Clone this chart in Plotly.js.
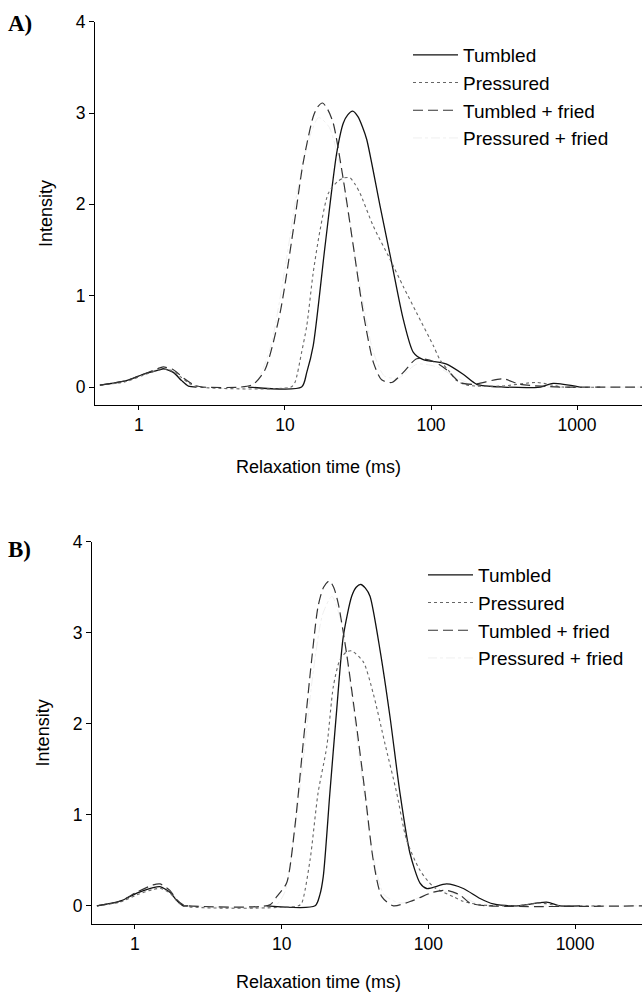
<!DOCTYPE html>
<html>
<head>
<meta charset="utf-8">
<script src="https://cdn.plot.ly/plotly-3.0.1.min.js"></script>
<style>html,body{margin:0;padding:0;background:#fff;}#chart{width:642px;height:992px;}</style>
</head>
<body>
<div id="chart"></div>
<script>
// ---------- DATA (relaxation time in ms, intensity) ----------
const seriesNames = ["Tumbled", "Pressured", "Tumbled + fried", "Pressured + fried"];
const xTickVals = [1, 10, 100, 1000];
const xTickText = ["1", "10", "100", "1000"];
const yTickVals = [0, 1, 2, 3, 4];
const panelLabels = ["A)", "B)"];
const xTitle = "Relaxation time (ms)";
const yTitle = "Intensity";

// Panel A
const aTumbledT = [0.54, 0.82, 1.07, 1.39, 1.47, 1.72, 1.96, 2.18, 2.48, 3.5, 5.6, 13.0, 14.1, 15.6, 18.8, 22.6, 25.1, 26.9, 29.1, 31.6, 33.9, 36.3, 44.8, 53.8, 64.6, 75.7, 88.5, 115, 128, 166, 206, 316, 562, 686, 1047];
const aTumbledI = [0.02, 0.07, 0.14, 0.19, 0.20, 0.16, 0.07, 0.01, 0.0, null, 0.0, 0.0, 0.16, 0.45, 1.54, 2.56, 2.89, 2.98, 3.02, 2.96, 2.85, 2.71, 1.98, 1.36, 0.74, 0.38, 0.30, 0.27, 0.25, 0.14, 0.03, 0.0, 0.0, 0.04, 0.0];

const aPressT = [0.54, 0.82, 1.07, 1.39, 1.6, 1.9, 2.2, 2.6, 11.0, 11.7, 13.0, 14.1, 15.6, 17.4, 19.8, 22.9, 25.4, 27.9, 30.2, 32.7, 40.3, 52.4, 64.6, 79.8, 104, 115, 135, 150, 178, 300, 532, 794, 1500];
const aPressI = [0.02, 0.06, 0.13, 0.19, 0.19, 0.12, 0.04, 0.0, 0.0, 0.05, 0.38, 0.67, 1.25, 1.72, 2.12, 2.25, 2.29, 2.29, 2.22, 2.12, 1.76, 1.40, 1.10, 0.81, 0.45, 0.30, 0.16, 0.07, 0.02, 0.01, 0.05, 0.0, 0.0];

const aTFriedT = [0.54, 0.82, 1.07, 1.39, 1.47, 1.72, 2.05, 2.4, 2.74, 5.0, 6.07, 7.3, 9.25, 11.4, 13.3, 15.6, 16.8, 18.1, 19.6, 21.4, 25.1, 29.4, 34.4, 40.3, 45.9, 53.8, 64.6, 79.8, 104, 128, 158, 194, 311, 407, 766, 2000, 3162];
const aTFriedI = [0.02, 0.07, 0.14, 0.21, 0.22, 0.19, 0.09, 0.02, 0.0, 0.0, 0.03, 0.19, 0.81, 1.72, 2.45, 2.96, 3.07, 3.11, 3.04, 2.89, 2.27, 1.54, 0.81, 0.27, 0.08, 0.05, 0.16, 0.31, 0.28, 0.19, 0.05, 0.03, 0.09, 0.03, 0.0, 0.0, 0.0];

const aPFriedT = [0.54, 0.82, 1.07, 1.39, 1.72, 2.05, 2.6, 5.5, 6.5, 8.0, 10.0, 12.0, 14.5, 17.0, 20.0, 24.0, 28.0, 34.0, 40.0, 48.0, 60.0, 80.0, 110, 150, 200, 400, 3162];
const aPFriedI = [0.02, 0.07, 0.13, 0.20, 0.18, 0.08, 0.0, 0.0, 0.08, 0.45, 1.30, 2.10, 2.70, 2.95, 2.85, 2.40, 1.75, 0.95, 0.40, 0.12, 0.10, 0.25, 0.22, 0.10, 0.02, 0.0, 0.0];

// Panel B
const bTumbledT = [0.55, 0.79, 1.03, 1.33, 1.48, 1.73, 1.92, 2.13, 2.3, 4.0, 7.9, 16.9, 18.2, 19.2, 21.3, 23.7, 26.3, 30.0, 32.2, 34.6, 37.2, 40.0, 46.8, 54.7, 64.0, 74.8, 87.7, 97.3, 133, 173, 225, 277, 398, 640, 789, 1079];
const bTumbledI = [0.0, 0.05, 0.14, 0.20, 0.21, 0.15, 0.06, 0.0, 0.0, null, 0.0, 0.0, 0.12, 0.32, 1.24, 2.15, 2.96, 3.40, 3.50, 3.53, 3.49, 3.40, 2.81, 2.08, 1.24, 0.58, 0.25, 0.19, 0.24, 0.19, 0.08, 0.02, 0.0, 0.04, 0.0, 0.0];

const bPressT = [0.55, 0.79, 1.03, 1.33, 1.5, 1.73, 1.92, 2.13, 13.0, 13.7, 15.6, 17.7, 20.3, 22.5, 24.9, 27.7, 30.0, 36.0, 42.1, 50.6, 60.8, 71.1, 87.7, 108, 148, 172, 224, 400, 577, 794, 1500];
const bPressI = [0.0, 0.04, 0.12, 0.18, 0.19, 0.14, 0.06, 0.0, 0.0, 0.03, 0.50, 1.24, 1.75, 2.41, 2.70, 2.79, 2.80, 2.68, 2.33, 1.78, 1.24, 0.72, 0.39, 0.21, 0.10, 0.05, 0.01, 0.0, 0.03, 0.0, 0.0];

const bTFriedT = [0.55, 0.79, 1.03, 1.33, 1.48, 1.73, 1.92, 2.13, 2.3, 8.3, 9.25, 10.8, 12.3, 14.0, 16.0, 17.7, 19.3, 21.1, 22.6, 24.3, 27.7, 32.4, 37.0, 42.1, 48.1, 57.7, 78.9, 108, 133, 164, 192, 251, 3162];
const bTFriedI = [0.0, 0.05, 0.15, 0.23, 0.24, 0.17, 0.07, 0.01, 0.0, 0.01, 0.10, 0.25, 0.87, 1.78, 2.70, 3.29, 3.50, 3.57, 3.50, 3.32, 2.77, 1.97, 1.24, 0.50, 0.10, 0.0, 0.06, 0.15, 0.17, 0.12, 0.03, 0.0, 0.0];

const bPFriedT = [0.55, 0.79, 1.03, 1.33, 1.73, 2.13, 2.5, 9.0, 10.5, 12.0, 14.0, 16.5, 19.0, 22.0, 26.0, 30.0, 36.0, 42.0, 50.0, 65.0, 90.0, 120, 160, 220, 400, 3162];
const bPFriedI = [0.0, 0.05, 0.14, 0.22, 0.16, 0.01, 0.0, 0.0, 0.15, 0.70, 1.60, 2.60, 3.20, 3.40, 3.05, 2.30, 1.30, 0.55, 0.12, 0.03, 0.10, 0.16, 0.12, 0.02, 0.0, 0.0];

// ---------- STYLE ----------
const FONT = "Liberation Sans, Arial, Helvetica, sans-serif";
const styles = [
  {color: "#111111", width: 1.3, dash: "solid"},
  {color: "#666666", width: 1.1, dash: "dot"},
  {color: "#333333", width: 1.2, dash: "10px,5px"},
  {color: "#efefef", width: 1.0, dash: "dashdot"}
];

function mk(x, y, i, xa, ya, leg) {
  return {
    x: x, y: y, type: "scatter", mode: "lines", name: seriesNames[i],
    xaxis: xa, yaxis: ya, legend: leg, connectgaps: false, legendrank: i + 1,
    line: {color: styles[i].color, width: styles[i].width, dash: styles[i].dash, shape: "spline", smoothing: 0.7},
    hoverinfo: "x+y"
  };
}

const traces = [
  mk(aPFriedT, aPFriedI, 3, "x", "y", "legend"),
  mk(aTumbledT, aTumbledI, 0, "x", "y", "legend"),
  mk(aPressT, aPressI, 1, "x", "y", "legend"),
  mk(aTFriedT, aTFriedI, 2, "x", "y", "legend"),
  mk(bPFriedT, bPFriedI, 3, "x2", "y2", "legend2"),
  mk(bTumbledT, bTumbledI, 0, "x2", "y2", "legend2"),
  mk(bPressT, bPressI, 1, "x2", "y2", "legend2"),
  mk(bTFriedT, bTFriedI, 2, "x2", "y2", "legend2")
];

const W = 642, H = 992;
const tickFont = {family: FONT, size: 17.5, color: "#000"};

function xAxis(domainLeft, range) {
  return {
    type: "log", domain: [domainLeft / W, 1], range: range,
    tickvals: xTickVals, ticktext: xTickText, tickmode: "array",
    showline: true, linecolor: "#000", linewidth: 1.2, mirror: false,
    ticks: "outside", ticklen: 4, tickcolor: "#000", tickwidth: 1,
    showgrid: false, zeroline: false, tickfont: tickFont, automargin: false,
    fixedrange: true
  };
}
function yAxis(top, bottom, anchor) {
  return {
    domain: [1 - bottom / H, 1 - top / H], range: [-0.2, 4], anchor: anchor,
    tickvals: yTickVals, tickmode: "array",
    showline: true, linecolor: "#000", linewidth: 1.2, mirror: false,
    ticks: "outside", ticklen: 5, tickcolor: "#000", tickwidth: 1,
    showgrid: false, zeroline: false, tickfont: tickFont, automargin: false,
    title: {text: yTitle, font: {family: FONT, size: 18, color: "#000"}, standoff: 18},
    fixedrange: true
  };
}

const legendBase = {
  bgcolor: "rgba(0,0,0,0)", borderwidth: 0, traceorder: "normal",
  font: {family: FONT, size: 19, color: "#000"}, itemwidth: 45,
  xanchor: "left", yanchor: "top", itemclick: false, itemdoubleclick: false
};

const layout = {
  width: W, height: H,
  margin: {l: 0, r: 0, t: 0, b: 0},
  paper_bgcolor: "#fff", plot_bgcolor: "#fff",
  font: {family: FONT, color: "#000"},
  showlegend: true,
  xaxis: Object.assign(xAxis(95, [-0.301, 3.445]), {anchor: "y"}),
  yaxis: yAxis(21.7, 405.3, "x"),
  xaxis2: Object.assign(xAxis(92, [-0.293, 3.456]), {anchor: "y2"}),
  yaxis2: yAxis(541.7, 924, "x2"),
  legend: Object.assign({}, legendBase, {x: 408 / W, y: 1 - 36 / H}),
  legend2: Object.assign({}, legendBase, {x: 423 / W, y: 1 - 556 / H}),
  annotations: [
    {text: panelLabels[0], xref: "paper", yref: "paper", x: 6 / W, y: 1 - 9 / H, xanchor: "left", yanchor: "top", showarrow: false,
     font: {family: "Liberation Serif, Times New Roman, serif", size: 23, color: "#000", weight: "bold"}},
    {text: panelLabels[1], xref: "paper", yref: "paper", x: 6 / W, y: 1 - 535 / H, xanchor: "left", yanchor: "top", showarrow: false,
     font: {family: "Liberation Serif, Times New Roman, serif", size: 23, color: "#000", weight: "bold"}},
    {text: xTitle, xref: "paper", yref: "paper", x: 318 / W, y: 1 - 467 / H, xanchor: "center", yanchor: "middle", showarrow: false,
     font: {family: FONT, size: 18, color: "#000"}},
    {text: xTitle, xref: "paper", yref: "paper", x: 318 / W, y: 1 - 982 / H, xanchor: "center", yanchor: "middle", showarrow: false,
     font: {family: FONT, size: 18, color: "#000"}}
  ]
};

Plotly.newPlot("chart", traces, layout, {displayModeBar: false, responsive: false});
</script>
</body>
</html>
